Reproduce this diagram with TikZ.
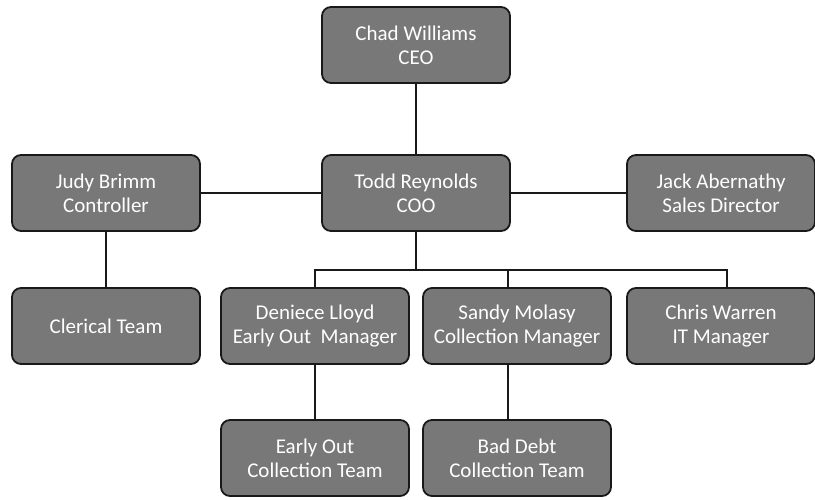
\documentclass[tikz,border=0pt]{standalone}
\usepackage{fontspec}
\newfontfamily\orgfont{Carlito}
\usetikzlibrary{positioning}
\tikzset{
    node distance=148pt, % vertical spacing between the top levels
    person/.style={draw=black!90, line width=1.8pt, fill=black!53, rounded corners=9pt,
        minimum width=188pt, minimum height=76pt, text=white, align=center,
        font=\orgfont\fontsize{21}{24}\selectfont}, % every box of the chart
    link/.style={line width=1.4pt, draw=black!90}, % the connecting lines
}
\begin{document}
\begin{tikzpicture}
                    \useasboundingbox (0,0) rectangle (815pt,-499pt);
                    \node[person] (ceo) at (416pt,-45pt) {Chad Williams\\CEO};
                    \node[person, below of=ceo] (coo) {Todd Reynolds\\COO};
                    \node[person, left of=coo, node distance=310pt] (judy) {Judy Brimm\\Controller};
                    \node[person, right of=coo, node distance=305pt] (jack) {Jack Abernathy\\Sales Director};
                    \node[person, below of=judy, node distance=133pt] (clerical) {Clerical Team};
                    \node[person, right of=clerical, node distance=209pt] (deniece) {Deniece Lloyd\\Early Out~ Manager};
                    \node[person, right of=deniece, node distance=202pt] (sandy) {Sandy Molasy\\Collection Manager};
                    \node[person, right of=sandy, node distance=204pt] (chris) {Chris Warren\\IT Manager};
                    \node[person, below of=deniece, node distance=132pt] (earlyout) {Early Out\\Collection Team};
                    \node[person, below of=sandy, node distance=132pt] (baddebt) {Bad Debt\\Collection Team};
                    \coordinate[below of=coo, node distance=77pt] (bus);
                    \draw[link] (ceo) -- (coo)
                    (judy) -- (coo)
                    (coo) -- (jack)
                    (judy) -- (clerical)
                    (coo.south) -- (bus)
                    (deniece.north) |- (bus) -| ([xshift=6pt]chris.north)
                    ([xshift=-9pt]sandy.north) -- ([xshift=-9pt]sandy.north |- bus)
                    (deniece) -- (earlyout)
                    ([xshift=-9pt]sandy.south) -- ([xshift=-9pt]baddebt.north);
                \end{tikzpicture}
\end{document}
